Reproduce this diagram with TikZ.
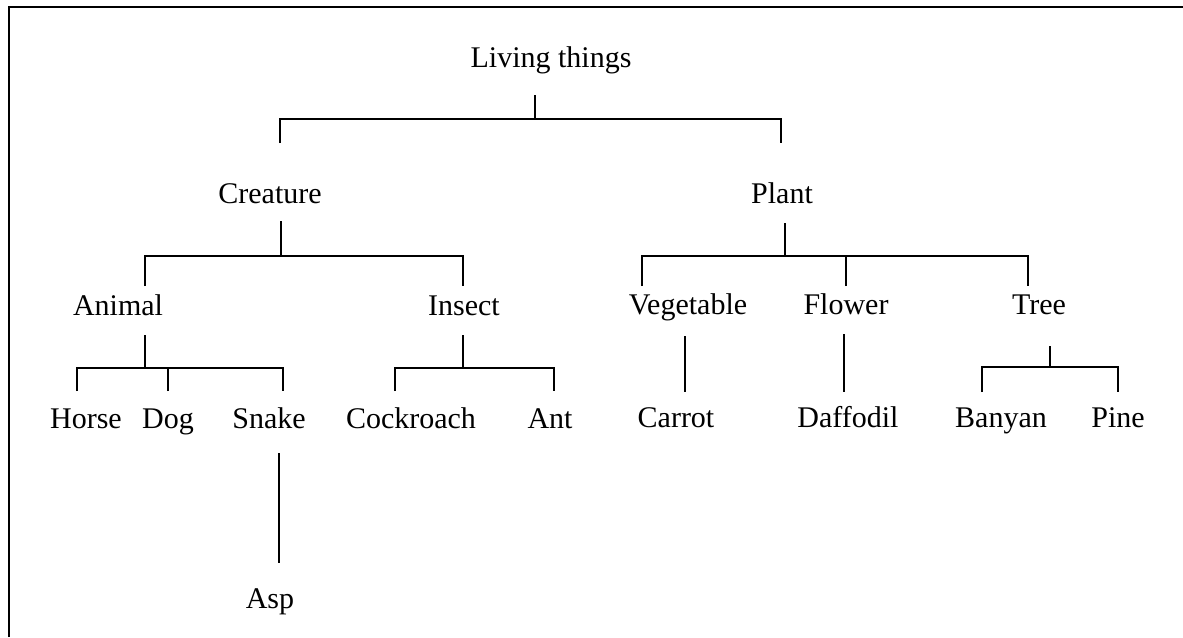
\documentclass[tikz,border=0pt]{standalone}
\usepackage{fontspec}
\setmainfont{Liberation Serif}
\usetikzlibrary{positioning}

\begin{document}
\begin{tikzpicture}[x=1pt, y=-1pt,
  lbl/.style={inner sep=0pt, anchor=base, font=\fontsize{30}{36}\selectfont},
  branch/.style={draw=black, line width=1.3pt},
  frame/.style={draw=black, line width=2pt}]

\useasboundingbox (0,0) rectangle (1183,637);

% frame (only top and left edge show)
\coordinate (fr-tl) at (9,7);
\coordinate (fr-tr) at (1183,7);
\coordinate (fr-bl) at (9,637);
\draw[frame] (fr-bl) -- (fr-tl) -- (fr-tr);

% labels
\node[lbl] (living) at (551,67) {Living things};

\node[lbl] (creature) at (270,203) {Creature};
\node[lbl] (plant) at (782,203) {Plant};

\node[lbl] (animal) at (118,315) {Animal};
\node[lbl] (insect) at (464,315) {Insect};
\node[lbl] (vegetable) at (688,314) {Vegetable};
\node[lbl] (flower) at (846,314) {Flower};
\node[lbl] (tree) at (1039,314) {Tree};

\node[lbl] (horse) at (86,428) {Horse};
\node[lbl] (dog) at (168,428) {Dog};
\node[lbl] (snake) at (269,428) {Snake};
\node[lbl] (cockroach) at (411,428) {Cockroach};
\node[lbl] (ant) at (550,428) {Ant};
\node[lbl] (carrot) at (676,427) {Carrot};
\node[lbl] (daffodil) at (848,427) {Daffodil};
\node[lbl] (banyan) at (1001,427) {Banyan};
\node[lbl] (pine) at (1118,427) {Pine};

\node[lbl] (asp) at (270,608) {Asp};

% line ends
\coordinate (living-s) at (535,95);
\coordinate (creature-n) at (280,143);
\coordinate (plant-n) at (781,143);

\coordinate (creature-s) at (281,221);
\coordinate (animal-n) at (145,286);
\coordinate (insect-n) at (463,286);

\coordinate (plant-s) at (785,223);
\coordinate (vegetable-n) at (642,286);
\coordinate (flower-n) at (846,286);
\coordinate (tree-n) at (1028,286);

\coordinate (animal-s) at (145,335);
\coordinate (horse-n) at (77,391);
\coordinate (dog-n) at (168,391);
\coordinate (snake-n) at (283,391);

\coordinate (insect-s) at (463,335);
\coordinate (cockroach-n) at (395,391);
\coordinate (ant-n) at (554,391);

\coordinate (vegetable-s) at (685,336);
\coordinate (carrot-n) at (685,392);
\coordinate (flower-s) at (844,334);
\coordinate (daffodil-n) at (844,392);

\coordinate (tree-s) at (1050,346);
\coordinate (banyan-n) at (982,392);
\coordinate (pine-n) at (1118,392);

\coordinate (snake-s) at (279,453);
\coordinate (asp-n) at (279,563);

% branches
\draw[branch] (living-s) -- ++(0,24) coordinate (living-j);
\draw[branch] (creature-n) |- (living-j) -| (plant-n);

\draw[branch] (creature-s) -- ++(0,35) coordinate (creature-j);
\draw[branch] (animal-n) |- (creature-j) -| (insect-n);

\draw[branch] (plant-s) -- ++(0,33) coordinate (plant-j);
\draw[branch] (vegetable-n) |- (plant-j) -| (tree-n);
\draw[branch] (flower-n) -- (flower-n |- plant-j);

\draw[branch] (animal-s) -- ++(0,33) coordinate (animal-j);
\draw[branch] (horse-n) |- (animal-j) -| (snake-n);
\draw[branch] (dog-n) -- (dog-n |- animal-j);

\draw[branch] (insect-s) -- ++(0,33) coordinate (insect-j);
\draw[branch] (cockroach-n) |- (insect-j) -| (ant-n);

\draw[branch] (vegetable-s) -- (carrot-n);
\draw[branch] (flower-s) -- (daffodil-n);

\draw[branch] (tree-s) -- ++(0,21) coordinate (tree-j);
\draw[branch] (banyan-n) |- (tree-j) -| (pine-n);

\draw[branch] (snake-s) -- (asp-n);

\end{tikzpicture}
\end{document}
